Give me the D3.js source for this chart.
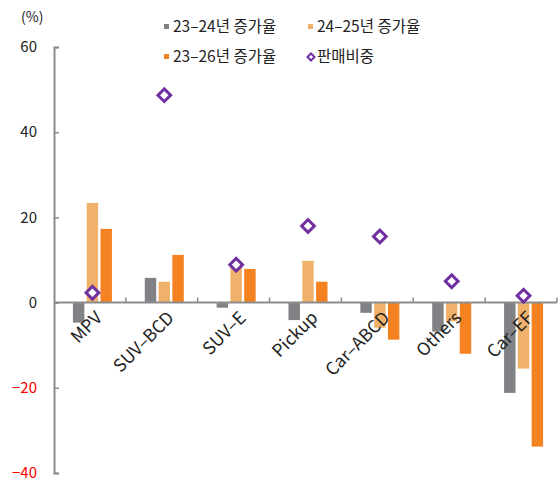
<!DOCTYPE html>
<html>
<head>
<meta charset="utf-8">
<title>차급별 증가율</title>
<style>
  body { margin: 0; background: #fff; }
  text { font-family: "Noto Sans CJK KR", "Noto Sans", sans-serif; }
</style>
</head>
<body>
<div id="chart"></div>
<script src="https://d3js.org/d3.v7.min.js"></script>
<script>
// categories and values
var categories = ["MPV", "SUV-BCD", "SUV-E", "Pickup", "Car-ABCD", "Others", "Car-EF"];
var growth2324 = [-4.7, 5.8, -1.2, -4.1, -2.4, -6.8, -21.2];
var growth2425 = [23.4, 4.9, 9.3, 9.8, -5.9, -4.4, -15.5];
var growth2326 = [17.3, 11.2, 7.9, 4.9, -8.7, -12.0, -33.8];
var salesShare = [2.3, 48.7, 8.9, 18.0, 15.5, 5.0, 1.6];
var yTicks = [60, 40, 20, 0, -20, -40];

var seriesNames = ["23-24년 증가율", "24-25년 증가율", "23-26년 증가율"];
var seriesColors = ["#808285", "#F0B26B", "#F58220"];
var shareName = "판매비중";
var shareColor = "#7030A0";

var W = 558, H = 479;
var plotL = 54, plotR = 557, plotT = 47, plotB = 473;

var svg = d3.select("#chart").append("svg")
    .attr("width", W)
    .attr("height", H);

var x = d3.scaleBand().domain(categories).range([plotL, plotR]);
var y = d3.scaleLinear().domain([-40, 60]).range([plotB, plotT]);
// offsets of the three bars inside a category
var xs = d3.scaleBand().domain([0, 1, 2]).range([-19.5, 19.5]).paddingInner(0.17);
var shift = 2.5;

var rows = [growth2324, growth2425, growth2326];

// bars
rows.forEach(function (vals, si) {
    svg.append("g").selectAll("rect")
        .data(vals)
        .enter().append("rect")
        .attr("x", function (d, i) { return x(categories[i]) + x.bandwidth() / 2 + shift + xs(si); })
        .attr("y", function (d) { return y(Math.max(0, d)); })
        .attr("width", xs.bandwidth())
        .attr("height", function (d) { return Math.abs(y(d) - y(0)); })
        .attr("fill", seriesColors[si]);
});

// y axis
var yAxis = svg.append("g")
    .attr("transform", "translate(" + plotL + ",0)")
    .call(d3.axisRight(y).tickValues(yTicks).tickSize(5).tickFormat(""));
yAxis.select(".domain").attr("stroke", "#8c8c8c").attr("stroke-width", 2);
yAxis.selectAll(".tick line").attr("stroke", "#8c8c8c").attr("stroke-width", 1.5);

svg.append("g").selectAll("text")
    .data(yTicks)
    .enter().append("text")
    .attr("x", 37)
    .attr("y", function (d) { return y(d); })
    .attr("dy", "0.35em")
    .attr("text-anchor", "end")
    .attr("font-size", 15)
    .attr("fill", function (d) { return d < 0 ? "#FF0000" : "#222"; })
    .text(function (d) { return d < 0 ? "\u2212" + Math.abs(d) : d; });

svg.append("text")
    .attr("x", 21).attr("y", 22)
    .attr("font-size", 14)
    .attr("fill", "#222")
    .text("(%)");

// x axis at zero
var xAxis = svg.append("g")
    .attr("transform", "translate(0," + y(0) + ")");
xAxis.append("line")
    .attr("x1", plotL).attr("x2", plotR)
    .attr("stroke", "#8c8c8c").attr("stroke-width", 2);
xAxis.selectAll(".tk")
    .data(categories)
    .enter().append("line")
    .attr("x1", function (d) { return x(d) + x.bandwidth(); })
    .attr("x2", function (d) { return x(d) + x.bandwidth(); })
    .attr("y1", 0).attr("y2", -5)
    .attr("stroke", "#8c8c8c").attr("stroke-width", 1.5);

// category labels
svg.append("g").selectAll("text")
    .data(categories)
    .enter().append("text")
    .attr("transform", function (d) {
        return "translate(" + (x(d) + x.bandwidth() / 2 + 9) + "," + (y(0) + 12) + ") rotate(-45)";
    })
    .attr("text-anchor", "end")
    .attr("dy", "0.35em")
    .attr("font-size", 17.5)
    .attr("fill", "#222")
    .text(function (d) { return d.replace("-", "\u2013"); });

// sales share diamonds
svg.append("g").selectAll("rect")
    .data(salesShare)
    .enter().append("rect")
    .attr("x", -4.5).attr("y", -4.5)
    .attr("width", 9).attr("height", 9)
    .attr("transform", function (d, i) {
        return "translate(" + (x(categories[i]) + x.bandwidth() / 2 + shift) + "," + y(d) + ") rotate(45)";
    })
    .attr("fill", "#fff")
    .attr("stroke", shareColor)
    .attr("stroke-width", 3);

// legend
var legendItems = [
    { name: seriesNames[0], color: seriesColors[0], x: 164, y: 27 },
    { name: seriesNames[1], color: seriesColors[1], x: 308, y: 27 },
    { name: seriesNames[2], color: seriesColors[2], x: 164, y: 57 },
    { name: shareName, color: shareColor, x: 308, y: 57, diamond: true }
];
var lg = svg.append("g").selectAll("g")
    .data(legendItems)
    .enter().append("g")
    .attr("transform", function (d) { return "translate(" + d.x + "," + d.y + ")"; });
lg.filter(function (d) { return !d.diamond; }).append("rect")
    .attr("x", 0).attr("y", -3).attr("width", 5).attr("height", 5)
    .attr("fill", function (d) { return d.color; });
lg.filter(function (d) { return d.diamond; }).append("rect")
    .attr("x", -2.5).attr("y", -2.5).attr("width", 5).attr("height", 5)
    .attr("transform", "translate(3,0) rotate(45)")
    .attr("fill", "#fff")
    .attr("stroke", function (d) { return d.color; })
    .attr("stroke-width", 2);
lg.append("text")
    .attr("x", 9)
    .attr("dy", "0.35em")
    .attr("font-size", 15.5)
    .attr("fill", "#222")
    .text(function (d) { return d.name.replace(/-/g, "\u2013"); });
</script>
</body>
</html>
